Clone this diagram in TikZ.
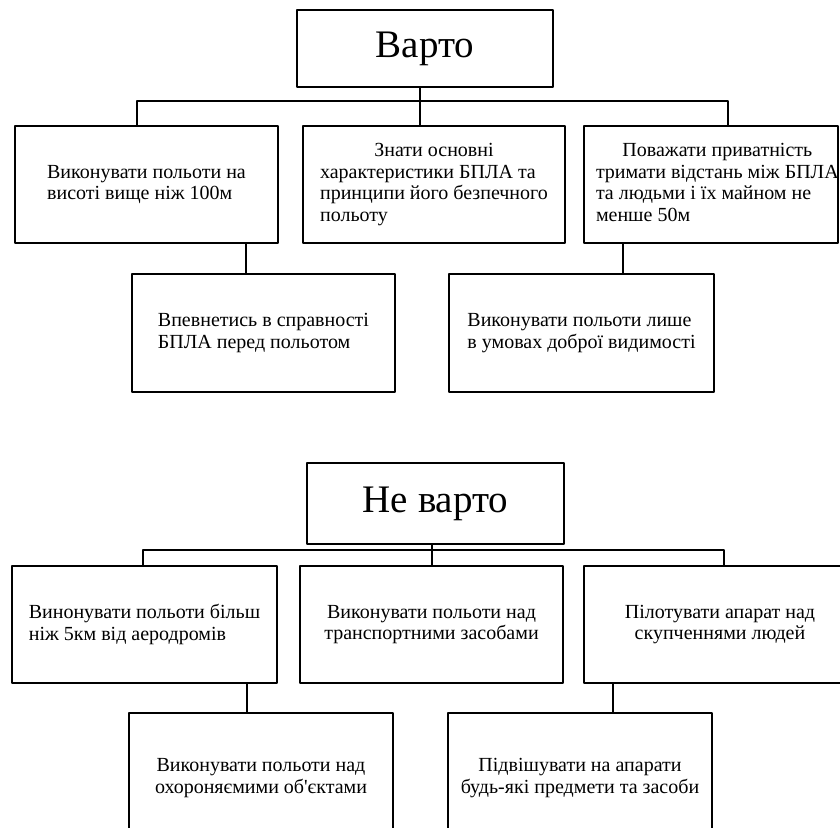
\documentclass[tikz,border=0pt]{standalone}
\usepackage{fontspec}
\setmainfont{Liberation Serif}
\usetikzlibrary{positioning}
\begin{document}
\begin{tikzpicture}[x=1pt,y=-1pt, line join=round, line cap=round,
	head/.style={draw, line width=2.8pt, inner sep=0pt, font=\fontsize{39}{44}\selectfont},
	box/.style={draw, line width=2.8pt, inner sep=0pt, minimum height=117pt, font=\fontsize{20}{21.5}\selectfont},
	link/.style={line width=2.2pt}]
	\useasboundingbox (0,0) rectangle (840,827);
	% Варто
	\node[head, minimum width=256pt, minimum height=77pt] (top1) at (425,48.5) {Варто};
	\node[box, minimum width=263pt, align=left] (b1) at (146.5,184.5) {Виконувати польоти на\\висоті вище ніж 100м};
	\node[box, minimum width=262pt] (b2) at (434,184.5) {\begin{tabular}{@{}l@{}}\multicolumn{1}{@{}c@{}}{Знати основні}\\характеристики БПЛА та\\принципи його безпечного\\польоту\end{tabular}};
	\node[box, minimum width=254pt] (b3) at (711,184.5) {\makebox[254pt][l]{\hspace{12pt}\begin{tabular}{@{}l@{}}\multicolumn{1}{@{}c@{}}{Поважати приватність}\\тримати відстань між БПЛА\\та людьми і їх майном не\\менше 50м\end{tabular}}};
	\node[box, minimum width=263pt, minimum height=118pt, align=left] (b4) at (263.5,333) {Впевнетись в справності\\БПЛА перед польотом};
	\node[box, minimum width=265pt, minimum height=118pt, align=left] (b5) at (581.5,333) {Виконувати польоти лише\\в умовах доброї видимості};
	\coordinate (bus1) at (420,101);
	\coordinate (bus1l) at (137,101);
	\coordinate (bus1r) at (728,101);
	\draw[link] (bus1 |- top1.south) -- (bus1);
	\draw[link] (bus1l |- b1.north) -- (bus1l) -- (bus1r) -- (bus1r |- b3.north);
	\draw[link] (bus1) -- (bus1 |- b2.north);
	\draw[link] ([xshift=-17.5pt]b4.north) -- ([xshift=-17.5pt]b4.north |- b1.south);
	\draw[link] ([xshift=41.5pt]b5.north) -- ([xshift=41.5pt]b5.north |- b3.south);
	% Не варто
	\node[head, minimum width=257pt, minimum height=81pt] (top2) at (435.5,503.5) {Не варто};
	\node[box, minimum width=265pt, align=left] (b6) at (144.5,624.5) {Винонувати польоти більш\\ніж 5км від аеродромів};
	\node[box, minimum width=263pt, align=center] (b7) at (431.5,624.5) {Виконувати польоти над\\транспортними засобами};
	\node[box, minimum width=272pt, align=center] (b8) at (720,624.5) {Пілотувати апарат над\\скупченнями людей};
	\node[box, minimum width=264pt, minimum height=130pt, align=center] (b9) at (261,778) {Виконувати польоти над\\охороняємими об\textquotesingle єктами};
	\node[box, minimum width=264pt, minimum height=130pt, align=center] (b10) at (580,778) {Підвішувати на апарати\\будь-які предмети та засоби};
	\coordinate (bus2) at (432,550);
	\coordinate (bus2l) at (143,550);
	\coordinate (bus2r) at (724,550);
	\draw[link] (bus2 |- top2.south) -- (bus2);
	\draw[link] (bus2l |- b6.north) -- (bus2l) -- (bus2r) -- (bus2r |- b8.north);
	\draw[link] (bus2) -- (bus2 |- b7.north);
	\draw[link] ([xshift=-14pt]b9.north) -- ([xshift=-14pt]b9.north |- b6.south);
	\draw[link] ([xshift=33pt]b10.north) -- ([xshift=33pt]b10.north |- b8.south);
\end{tikzpicture}
\end{document}
